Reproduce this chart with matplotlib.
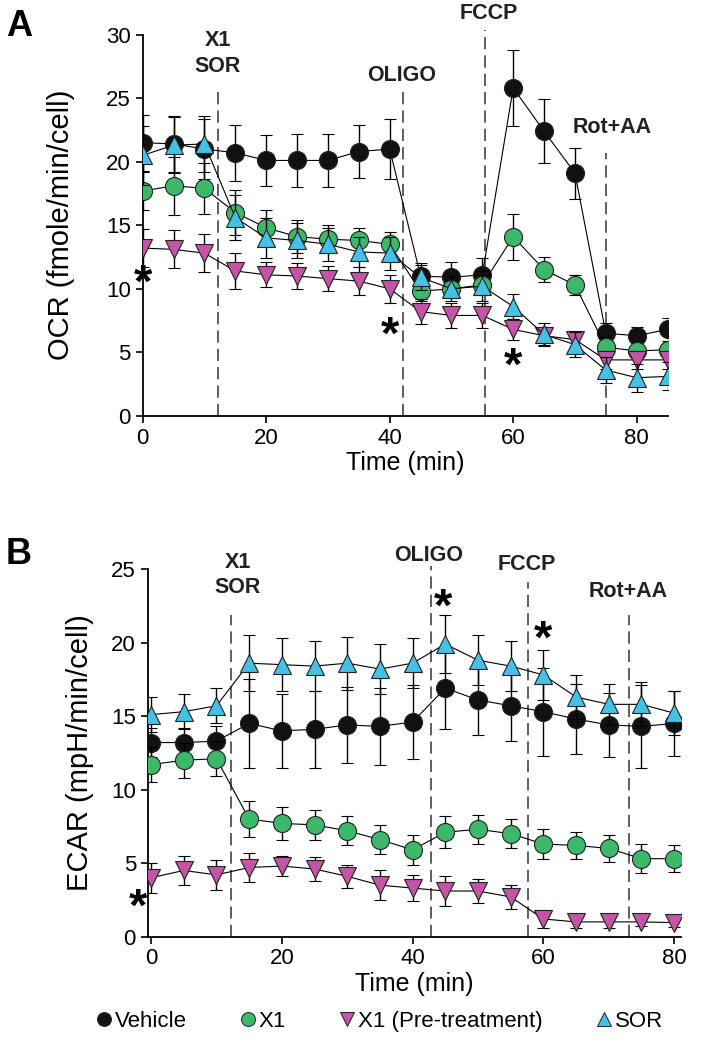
import matplotlib
matplotlib.use("Agg")
import matplotlib.pyplot as plt
import numpy as np
from matplotlib.lines import Line2D

plt.rcParams['font.family'] = ['Liberation Sans Narrow', 'Liberation Sans', 'DejaVu Sans']

# ---- data ----
series_names = ["Vehicle", "X1", "X1 (Pre-treatment)", "SOR"]

time_a = [0, 5, 10, 15, 20, 25, 30, 35, 40, 45, 50, 55, 60, 65, 70, 75, 80, 85]
ocr_vehicle = [21.5, 21.4, 21.0, 20.7, 20.1, 20.1, 20.1, 20.8, 21.0, 11.0, 10.9, 11.1, 25.8, 22.4, 19.1, 6.5, 6.3, 6.8]
ocr_vehicle_err = [2.2, 2.2, 2.4, 2.2, 2.0, 2.1, 2.1, 2.1, 2.4, 1.0, 1.2, 1.3, 3.0, 2.5, 2.0, 0.8, 0.7, 0.9]
ocr_x1 = [17.7, 18.1, 17.9, 16.0, 14.8, 14.1, 13.9, 13.8, 13.5, 9.8, 10.0, 10.3, 14.1, 11.5, 10.3, 5.4, 5.1, 5.2]
ocr_x1_err = [1.5, 2.3, 2.0, 1.8, 1.4, 1.3, 1.1, 1.0, 1.0, 0.8, 0.7, 0.8, 1.8, 1.0, 0.8, 0.8, 0.4, 0.5]
ocr_pre = [13.2, 13.1, 12.8, 11.4, 11.1, 11.0, 10.8, 10.6, 10.0, 8.2, 7.9, 7.9, 6.8, 6.3, 6.0, 4.4, 4.4, 4.4]
ocr_pre_err = [1.5, 1.5, 1.5, 1.4, 1.0, 1.0, 1.0, 1.1, 1.1, 1.0, 1.0, 1.0, 0.8, 0.7, 0.7, 0.7, 0.7, 0.7]
ocr_sor = [20.5, 21.3, 21.4, 15.6, 14.0, 13.8, 13.5, 12.9, 12.8, 10.9, 10.0, 10.2, 8.6, 6.4, 5.6, 3.6, 3.0, 3.1]
ocr_sor_err = [2.3, 2.2, 2.2, 1.8, 1.6, 1.4, 1.3, 1.2, 1.3, 1.0, 1.0, 1.2, 1.0, 0.9, 1.0, 1.0, 1.1, 1.1]

time_b = [0, 5, 10, 15, 20, 25, 30, 35, 40, 45, 50, 55, 60, 65, 70, 75, 80]
ecar_vehicle = [13.2, 13.2, 13.3, 14.5, 14.0, 14.1, 14.4, 14.3, 14.6, 16.9, 16.1, 15.7, 15.3, 14.8, 14.4, 14.3, 14.5]
ecar_vehicle_err = [1.0, 1.0, 1.0, 3.0, 2.5, 2.6, 2.6, 2.6, 2.5, 2.8, 2.4, 2.4, 3.0, 2.4, 2.2, 2.8, 2.2]
ecar_x1 = [11.7, 12.0, 12.1, 8.0, 7.7, 7.6, 7.2, 6.6, 5.9, 7.1, 7.3, 7.0, 6.3, 6.2, 6.0, 5.3, 5.3]
ecar_x1_err = [1.2, 1.2, 1.2, 1.2, 1.1, 1.0, 1.0, 1.0, 1.0, 1.1, 1.0, 1.0, 1.0, 0.9, 0.9, 1.0, 0.9]
ecar_pre = [4.0, 4.5, 4.2, 4.7, 4.8, 4.6, 4.1, 3.5, 3.3, 3.1, 3.1, 2.7, 1.2, 1.0, 1.0, 1.0, 0.95]
ecar_pre_err = [1.0, 1.0, 1.0, 1.0, 0.7, 0.8, 0.8, 1.0, 0.9, 1.0, 0.8, 0.8, 0.6, 0.4, 0.4, 0.3, 0.3]
ecar_sor = [15.1, 15.3, 15.7, 18.6, 18.5, 18.4, 18.6, 18.2, 18.6, 19.9, 18.8, 18.4, 17.8, 16.3, 15.8, 15.8, 15.2]
ecar_sor_err = [1.2, 1.2, 1.2, 1.9, 1.8, 1.7, 1.8, 1.7, 1.7, 2.0, 1.7, 1.7, 1.7, 1.5, 1.4, 1.5, 1.5]

colors = ["#111111", "#3cb86a", "#c454a6", "#45c0e6"]
markers = ["o", "o", "v", "^"]


def draw_panel(ax, t, ys, errs):
    for i in range(4):
        ax.errorbar(t, ys[i], yerr=errs[i], color="black", lw=0.8, elinewidth=1.0,
                    capsize=4, capthick=1.0, marker=markers[i], ms=13,
                    mfc=colors[i], mec="#222222", mew=0.8, zorder=3 + i)
    for s in ["top", "right"]:
        ax.spines[s].set_visible(False)
    ax.spines["left"].set_linewidth(1.3)
    ax.spines["bottom"].set_linewidth(1.3)
    ax.tick_params(labelsize=16, width=1.2, length=5)


fig = plt.figure(figsize=(7.28, 10.5), dpi=100)
bold = dict(fontsize=15.5, fontweight="bold", ha="center", va="center", color="#222222")
star = dict(fontsize=34, fontweight="bold", ha="center", va="center")
dash = (0, (8, 4))

# ---- panel A ----
ax1 = fig.add_axes([0.196, 0.604, 0.721, 0.363])
draw_panel(ax1, time_a, [ocr_vehicle, ocr_x1, ocr_pre, ocr_sor],
           [ocr_vehicle_err, ocr_x1_err, ocr_pre_err, ocr_sor_err])
ax1.set_xlim(0, 85)
ax1.set_ylim(0, 30)
ax1.set_xticks([0, 20, 40, 60, 80])
ax1.set_yticks([0, 5, 10, 15, 20, 25, 30])
ax1.set_ylabel("OCR (fmole/min/cell)", fontsize=21, labelpad=22)
ax1.set_xlabel("Time (min)", fontsize=18, labelpad=2)
for x, top in [(12.2, 25.9), (42.1, 25.9), (55.5, 30.4), (75.0, 20.7)]:
    ax1.plot([x, x], [0, top], ls=dash, color="#333333", lw=1.1, clip_on=False, zorder=2)
ax1.text(12.2, 28.5, "X1\nSOR", linespacing=1.3, **bold)
ax1.text(42.0, 26.8, "OLIGO", **bold)
ax1.text(56.0, 31.7, "FCCP", **bold)
ax1.text(76.0, 22.7, "Rot+AA", **bold)
ax1.text(0, 10.3, "*", **star)
ax1.text(40, 6.2, "*", **star)
ax1.text(60, 3.8, "*", **star)
fig.text(0.008, 0.975, "A", fontsize=26, fontweight="bold", va="center")

# ---- panel B ----
ax2 = fig.add_axes([0.203, 0.108, 0.732, 0.350])
draw_panel(ax2, time_b, [ecar_vehicle, ecar_x1, ecar_pre, ecar_sor],
           [ecar_vehicle_err, ecar_x1_err, ecar_pre_err, ecar_sor_err])
ax2.set_xlim(-0.5, 81)
ax2.set_ylim(0, 25)
ax2.set_xticks([0, 20, 40, 60, 80])
ax2.set_yticks([0, 5, 10, 15, 20, 25])
ax2.set_ylabel("ECAR (mpH/min/cell)", fontsize=21, labelpad=12)
ax2.set_xlabel("Time (min)", fontsize=18, labelpad=2)
for x, top in [(12.3, 21.9), (42.8, 25.2), (57.7, 24.1), (73.1, 21.9)]:
    ax2.plot([x, x], [0, top], ls=dash, color="#333333", lw=1.1, clip_on=False, zorder=2)
ax2.text(13.3, 24.6, "X1\nSOR", linespacing=1.3, **bold)
ax2.text(42.5, 25.9, "OLIGO", **bold)
ax2.text(57.4, 25.3, "FCCP", **bold)
ax2.text(72.9, 23.5, "Rot+AA", **bold)
ax2.text(-2.0, 1.9, "*", clip_on=False, **star)
ax2.text(44.6, 22.3, "*", **star)
ax2.text(60.0, 20.1, "*", **star)
fig.text(0.008, 0.472, "B", fontsize=26, fontweight="bold", va="center")

# ---- legend ----
handles = [Line2D([], [], ls="none", marker=markers[i], ms=10, mfc=colors[i],
                  mec="#222222", mew=0.7) for i in range(4)]
fig.legend(handles, series_names, loc="center", bbox_to_anchor=(0.52, 0.027), ncol=4,
           frameon=False, fontsize=16, handletextpad=0.05, columnspacing=2.3,
           handlelength=0.9)

fig.savefig("out.png", dpi=100)
